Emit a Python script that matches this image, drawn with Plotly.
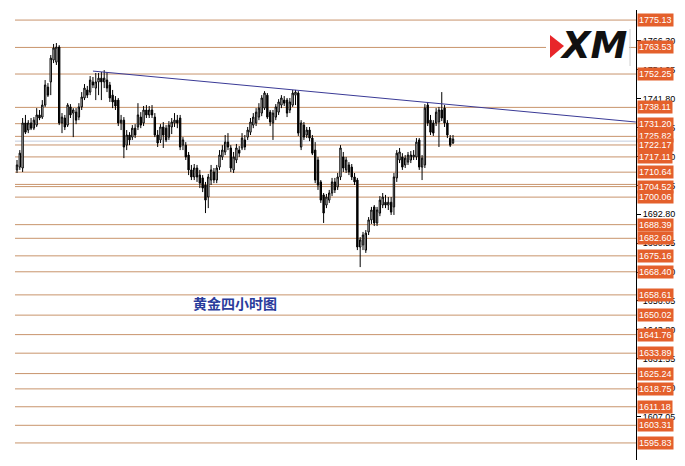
import plotly.graph_objects as go

# ---- data (4-hour gold candles) ----
opens = [1711.6,1712.8,1712.4,1731.5,1728.5,1731.5,1729.3,1730.6,1734.9,1734.0,
         1739.1,1746.7,1748.9,1758.2,1757.3,1763.7,1731.5,1733.6,1730.6,1738.3,
         1735.7,1736.1,1734.0,1738.3,1742.1,1745.5,1744.6,1748.9,1746.3,1748.9,
         1750.5,1748.9,1749.7,1747.6,1743.3,1741.2,1741.2,1731.5,1732.7,1722.1,
         1726.4,1725.5,1729.3,1729.8,1734.0,1731.5,1737.0,1734.9,1737.0,1734.0,
         1726.4,1724.3,1729.8,1729.3,1725.5,1729.8,1731.5,1732.7,1733.6,1722.1,
         1722.1,1717.9,1711.6,1708.6,1712.4,1709.4,1708.2,1705.2,1700.1,1707.3,
         1710.7,1707.3,1712.8,1717.1,1719.2,1723.4,1720.9,1711.6,1715.8,1720.0,
         1720.9,1724.3,1725.5,1727.6,1730.6,1731.5,1734.0,1735.7,1737.8,1743.3,
         1736.1,1731.5,1734.0,1736.1,1739.1,1741.2,1741.2,1737.0,1739.1,1743.3,
         1744.2,1721.3,1730.6,1726.4,1728.5,1725.1,1720.0,1715.8,1706.5,1701.0,
         1696.7,1698.8,1701.8,1706.5,1704.4,1708.6,1717.1,1711.6,1713.7,1712.8,
         1708.6,1707.3,1678.9,1679.8,1677.6,1685.3,1690.4,1695.9,1689.1,1693.3,
         1696.7,1697.9,1696.7,1697.9,1695.9,1708.2,1715.8,1717.1,1713.7,1714.9,
         1715.8,1717.1,1717.1,1724.3,1712.8,1713.7,1739.1,1732.7,1731.5,1731.5,
         1731.9,1737.0,1737.8,1731.5,1725.1,1723.0]
highs = [1715.8,1720.0,1733.6,1734.9,1732.7,1733.6,1734.0,1737.8,1737.0,1741.2,
         1749.7,1748.4,1760.3,1765.0,1765.4,1764.5,1735.7,1734.9,1739.9,1739.5,
         1737.8,1737.8,1739.9,1744.6,1748.0,1747.2,1751.4,1751.0,1752.7,1752.7,
         1753.1,1753.9,1753.1,1748.9,1745.5,1742.9,1742.1,1734.9,1734.0,1728.5,
         1727.6,1730.6,1731.0,1739.9,1736.1,1738.7,1739.1,1738.7,1739.1,1735.7,
         1728.5,1731.0,1731.9,1730.6,1732.3,1733.6,1735.7,1734.9,1734.9,1725.5,
         1723.4,1719.2,1713.7,1714.1,1713.7,1711.6,1709.4,1706.5,1709.9,1713.7,
         1712.4,1713.7,1720.0,1722.1,1726.4,1727.2,1722.1,1719.2,1722.6,1721.7,
         1727.2,1726.4,1729.8,1733.6,1735.7,1737.8,1739.9,1743.3,1745.0,1744.2,
         1737.0,1737.0,1739.5,1741.6,1743.3,1742.9,1742.1,1742.1,1745.5,1745.5,
         1745.0,1732.7,1731.9,1729.8,1729.8,1726.4,1723.4,1717.1,1707.3,1701.8,
         1701.4,1703.1,1708.2,1708.2,1710.3,1722.1,1719.2,1717.1,1714.9,1714.1,
         1710.3,1708.2,1683.1,1685.3,1686.1,1691.6,1695.9,1696.7,1695.9,1700.5,
         1701.8,1701.0,1700.1,1700.1,1710.3,1720.0,1720.9,1718.7,1717.9,1719.2,
         1719.6,1720.0,1725.1,1725.1,1717.9,1739.5,1740.4,1734.9,1732.7,1737.8,
         1738.3,1744.6,1739.1,1732.7,1726.4,1726.4]
lows = [1710.3,1711.6,1710.7,1726.8,1727.2,1728.5,1728.5,1729.8,1732.7,1733.2,
        1738.3,1742.5,1743.3,1756.9,1756.1,1730.6,1727.2,1728.5,1729.8,1733.6,
        1725.5,1731.0,1732.7,1737.0,1741.2,1742.1,1743.3,1746.3,1741.2,1743.3,
        1741.2,1746.3,1744.6,1740.4,1737.8,1737.0,1730.2,1728.5,1716.6,1720.0,
        1722.1,1724.3,1725.1,1728.5,1729.3,1730.2,1733.6,1733.6,1733.6,1725.5,
        1721.3,1723.0,1720.9,1723.4,1724.3,1726.8,1729.8,1729.3,1720.0,1720.0,
        1715.8,1709.4,1707.3,1707.3,1706.5,1703.9,1702.2,1693.3,1695.4,1705.2,
        1706.0,1706.0,1711.6,1715.8,1717.9,1720.0,1710.7,1710.3,1714.5,1717.1,
        1720.0,1720.0,1724.3,1726.4,1729.3,1730.2,1732.7,1734.4,1737.0,1733.2,
        1730.2,1724.3,1732.7,1734.9,1737.8,1738.7,1734.0,1735.7,1738.3,1739.1,
        1726.0,1720.0,1724.3,1725.1,1723.8,1717.9,1706.0,1703.1,1697.6,1689.1,
        1695.4,1697.6,1700.5,1701.8,1703.1,1707.3,1710.7,1710.3,1709.4,1707.3,
        1705.2,1677.6,1670.4,1677.6,1676.4,1684.0,1688.7,1687.8,1687.8,1692.0,
        1695.4,1695.4,1694.6,1692.5,1692.5,1706.5,1714.5,1711.6,1712.4,1713.7,
        1714.5,1715.8,1715.8,1711.6,1707.3,1712.4,1730.2,1726.4,1726.0,1730.2,
        1721.3,1732.3,1729.8,1725.1,1721.3,1722.6]
closes = [1713.7,1718.7,1731.5,1727.6,1731.5,1729.3,1732.7,1734.9,1733.6,1739.1,
          1747.6,1743.3,1759.0,1763.3,1763.7,1731.5,1734.0,1729.8,1739.1,1734.9,
          1737.0,1732.7,1738.3,1742.5,1746.3,1743.3,1749.7,1747.6,1748.9,1750.5,
          1748.9,1750.5,1746.3,1742.1,1740.4,1738.7,1731.5,1732.7,1721.3,1726.4,
          1724.3,1729.3,1726.4,1734.9,1730.6,1737.0,1734.9,1737.0,1734.9,1726.4,
          1723.0,1729.8,1726.4,1724.3,1730.6,1731.9,1732.7,1731.5,1721.3,1724.3,
          1717.1,1711.6,1708.6,1712.4,1708.6,1706.0,1703.9,1698.8,1708.6,1711.6,
          1707.3,1712.4,1717.9,1720.0,1723.4,1721.3,1712.4,1717.1,1720.9,1718.7,
          1725.1,1721.3,1728.5,1731.9,1734.0,1736.1,1737.8,1742.1,1744.2,1734.0,
          1731.9,1735.7,1738.3,1740.4,1742.1,1739.9,1735.7,1740.4,1744.2,1744.6,
          1727.2,1731.5,1725.5,1728.5,1725.1,1718.7,1707.3,1705.2,1698.8,1693.3,
          1700.1,1701.8,1706.5,1703.1,1708.6,1720.9,1712.4,1715.8,1710.7,1708.6,
          1706.5,1678.9,1681.9,1684.0,1684.8,1690.4,1694.6,1689.1,1694.6,1698.8,
          1700.1,1696.7,1697.9,1693.7,1708.6,1718.7,1719.2,1712.8,1716.6,1717.9,
          1717.9,1717.9,1723.4,1712.8,1716.6,1737.8,1731.5,1727.6,1727.2,1736.1,
          1737.0,1733.6,1731.5,1726.4,1722.1,1724.7]

levels = [1775.13, 1763.53, 1752.25, 1738.11, 1731.20, 1725.82, 1722.17, 1717.11,
          1710.64, 1704.52, 1700.06, 1688.39, 1682.60, 1675.16, 1668.40, 1658.61,
          1650.02, 1641.76, 1633.89, 1625.24, 1618.75, 1611.18, 1603.31, 1595.83]
extra_levels = [1705.45]
bid_price = 1723.8
trend_x = [27, 220]
trend_y = [1753.5, 1731.9]
axis_ticks = [1766.30, 1754.05, 1741.80, 1729.55, 1717.30, 1705.05, 1692.80,
              1680.55, 1668.30, 1656.05, 1643.80, 1631.55, 1619.30, 1607.05]
title_text = "黄金四小时图"

x_idx = list(range(len(opens)))
X_MIN, X_MAX = -0.71, 220.05
Y_MIN, Y_MAX = 1588.6, 1779.4

# the page body has an 8px margin, so the figure is drawn 8px smaller
# and its margins are trimmed to keep the plot area at 15..636 x 10..460
BODY = 8

def px(xp):
    return (xp - 15) / 621.0
def py(yp):
    return (460 - yp) / 450.0

fig = go.Figure()

fig.add_trace(go.Candlestick(
    x=x_idx, open=opens, high=highs, low=lows, close=closes,
    increasing=dict(line=dict(color="#000000", width=1), fillcolor="#ffffff"),
    decreasing=dict(line=dict(color="#000000", width=1), fillcolor="#000000"),
    whiskerwidth=0, hoverinfo="skip", showlegend=False))

fig.add_trace(go.Scatter(x=trend_x, y=trend_y, mode="lines",
                         line=dict(color="#3a3a96", width=1),
                         hoverinfo="skip", showlegend=False))

shapes = []
for lv in levels + extra_levels:
    shapes.append(dict(type="line", xref="paper", yref="y", x0=0, x1=1, y0=lv, y1=lv,
                       line=dict(color="#c8946c", width=1), layer="below"))
shapes.append(dict(type="line", xref="paper", yref="y", x0=0, x1=1, y0=bid_price, y1=bid_price,
                   line=dict(color="#c4ccdc", width=1), layer="below"))
# XM logo background + accents
shapes.append(dict(type="rect", xref="paper", yref="paper", x0=px(546), x1=px(629),
                   y0=py(66), y1=py(29), fillcolor="#ffffff", line=dict(width=0), layer="above"))
shapes.append(dict(type="line", xref="paper", yref="paper", x0=px(630), x1=px(630),
                   y0=py(66), y1=py(29), line=dict(color="#d0d0d0", width=1), layer="above"))
shapes.append(dict(type="path", xref="paper", yref="paper",
                   path=f"M {px(550)} {py(35)} L {px(564)} {py(46)} L {px(550)} {py(58)} Z",
                   fillcolor="#e8262a", line=dict(width=0), layer="above"))

annotations = []
for lv in levels:
    annotations.append(dict(x=1, xref="paper", y=lv, yref="y", xanchor="left", yanchor="middle",
                            xshift=1, text=f"{lv:.2f}", showarrow=False,
                            font=dict(family="Liberation Sans", size=9, color="#ffffff"),
                            bgcolor="#e4602c", borderpad=1))
annotations.append(dict(x=px(594), y=py(46), xref="paper", yref="paper",
                        xanchor="center", yanchor="middle",
                        text="<b><i>XM</i></b>", showarrow=False,
                        font=dict(family="DejaVu Sans", size=37, color="#111111")))
annotations.append(dict(x=px(235), y=py(303), xref="paper", yref="paper",
                        xanchor="center", yanchor="middle",
                        text=f"<b>{title_text}</b>", showarrow=False,
                        font=dict(family="Noto Sans CJK SC", size=14, color="#2a3c9c")))

fig.update_layout(
    width=685 - BODY, height=466 - BODY,
    margin=dict(l=15 - BODY, r=49, t=10 - BODY, b=6, autoexpand=False),
    paper_bgcolor="#ffffff", plot_bgcolor="#ffffff",
    shapes=shapes, annotations=annotations,
    xaxis=dict(range=[X_MIN, X_MAX], visible=False, rangeslider=dict(visible=False),
               showgrid=False, zeroline=False, automargin=False),
    yaxis=dict(range=[Y_MIN, Y_MAX], side="right", showgrid=False, zeroline=False,
               automargin=False,
               showline=True, linecolor="#000000", linewidth=1,
               ticks="outside", ticklen=4, tickcolor="#000000",
               tickvals=axis_ticks, ticktext=[f"{t:.2f}" for t in axis_ticks],
               tickfont=dict(family="Liberation Sans", size=9, color="#000000")),
)

fig.write_html("out.html")
